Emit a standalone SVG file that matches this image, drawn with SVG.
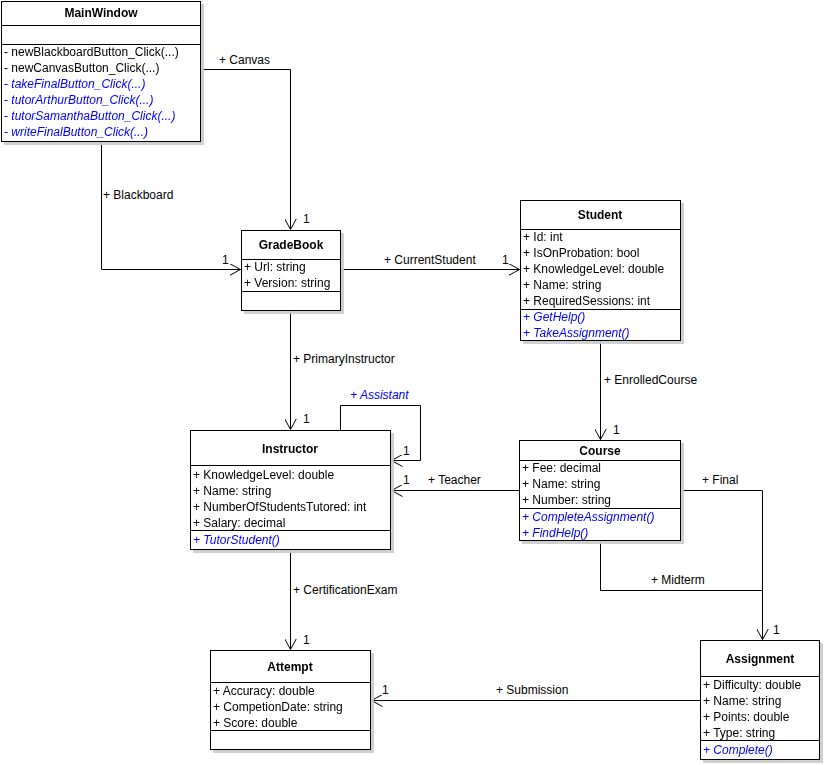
<svg xmlns="http://www.w3.org/2000/svg" width="825" height="765" viewBox="0 0 825 765">
<defs>
<marker id="a" markerWidth="12" markerHeight="12" refX="11" refY="6" orient="auto" markerUnits="userSpaceOnUse"><path d="M0,0 L11,6 L0,12" fill="none" stroke="#000"/></marker>
<filter id="sh" x="-5%" y="-5%" width="115%" height="115%"><feOffset dx="3" dy="3" in="SourceAlpha"/><feColorMatrix values="0 0 0 0 0.6 0 0 0 0 0.6 0 0 0 0 0.6 0 0 0 0.9 0"/><feMerge><feMergeNode/><feMergeNode in="SourceGraphic"/></feMerge></filter>
</defs>
<style>
text{font-family:"Liberation Sans",Arial,sans-serif;font-size:12px;fill:#000}
.t{font-weight:bold;text-anchor:middle}
.m{fill:#0000ff;font-style:italic}
.b{fill:#fff;stroke:#000;stroke-width:1}
.l{stroke:#000;stroke-width:1}
.c{fill:none;stroke:#000;stroke-width:1;marker-end:url(#a)}
</style>
<rect width="825" height="765" fill="#fff"/>
<g id="connectors">
<polyline class="c" points="200.5,69.5 290.5,69.5 290.5,229.5"/>
<text x="219" y="64">+ Canvas</text><text x="303" y="223">1</text>
<polyline class="c" points="101.5,141 101.5,269.5 240.5,269.5"/>
<text x="103" y="199">+ Blackboard</text><text x="222" y="264">1</text>
<polyline class="c" points="341,269.5 519.5,269.5"/>
<text x="384" y="264">+ CurrentStudent</text><text x="502" y="264">1</text>
<polyline class="c" points="290.5,311 290.5,429.5"/>
<text x="293" y="363">+ PrimaryInstructor</text><text x="303" y="423">1</text>
<polyline class="c" points="340.5,430 340.5,405.5 420.5,405.5 420.5,460.5 391.5,460.5"/>
<text x="350" y="399" class="m">+ Assistant</text><text x="403" y="455">1</text>
<polyline class="c" points="600.5,341 600.5,439.5"/>
<text x="604" y="384">+ EnrolledCourse</text><text x="613" y="434">1</text>
<polyline class="c" points="519,490.5 391.5,490.5"/>
<text x="428" y="484">+ Teacher</text><text x="403" y="484">1</text>
<polyline class="c" points="680,490.5 762.5,490.5 762.5,639.5"/>
<text x="702" y="484">+ Final</text><text x="773" y="634">1</text>
<polyline class="l" fill="none" points="600.5,541 600.5,590.5 762.5,590.5"/>
<text x="651" y="584">+ Midterm</text>
<polyline class="c" points="290.5,550 290.5,649.5"/>
<text x="293" y="594">+ CertificationExam</text><text x="303" y="644">1</text>
<polyline class="c" points="700,700.5 371.5,700.5"/>
<text x="496" y="694">+ Submission</text><text x="382" y="694">1</text>
</g>
<g id="MainWindow" filter="url(#sh)">
<rect class="b" x="1.5" y="1.5" width="199" height="140"/>
<line class="l" x1="1.5" y1="25.5" x2="200.5" y2="25.5"/><line class="l" x1="1.5" y1="44.5" x2="200.5" y2="44.5"/>
<text class="t" x="101" y="17">MainWindow</text>
<text x="4" y="56">-  newBlackboardButton_Click(...)</text>
<text x="4" y="72">-  newCanvasButton_Click(...)</text>
<text x="4" y="88" class="m">-  takeFinalButton_Click(...)</text>
<text x="4" y="104" class="m">-  tutorArthurButton_Click(...)</text>
<text x="4" y="120" class="m">-  tutorSamanthaButton_Click(...)</text>
<text x="4" y="136" class="m">-  writeFinalButton_Click(...)</text>
</g>
<g id="GradeBook" filter="url(#sh)">
<rect class="b" x="241.5" y="230.5" width="99" height="80"/>
<line class="l" x1="241.5" y1="259.5" x2="340.5" y2="259.5"/><line class="l" x1="241.5" y1="291.5" x2="340.5" y2="291.5"/>
<text class="t" x="291" y="249">GradeBook</text>
<text x="244" y="271">+ Url: string</text>
<text x="244" y="287">+ Version: string</text>
</g>
<g id="Student" filter="url(#sh)">
<rect class="b" x="520.5" y="200.5" width="160" height="140"/>
<line class="l" x1="520.5" y1="229.5" x2="680.5" y2="229.5"/><line class="l" x1="520.5" y1="309.5" x2="680.5" y2="309.5"/>
<text class="t" x="600" y="219">Student</text>
<text x="523" y="241">+ Id: int</text>
<text x="523" y="257">+ IsOnProbation: bool</text>
<text x="523" y="273">+ KnowledgeLevel: double</text>
<text x="523" y="289">+ Name: string</text>
<text x="523" y="305">+ RequiredSessions: int</text>
<text x="523" y="321" class="m">+ GetHelp()</text>
<text x="523" y="337" class="m">+ TakeAssignment()</text>
</g>
<g id="Instructor" filter="url(#sh)">
<rect class="b" x="190.5" y="430.5" width="200" height="119"/>
<line class="l" x1="190.5" y1="465.5" x2="390.5" y2="465.5"/><line class="l" x1="190.5" y1="530.5" x2="390.5" y2="530.5"/>
<text class="t" x="290" y="453">Instructor</text>
<text x="193" y="479">+ KnowledgeLevel: double</text>
<text x="193" y="495">+ Name: string</text>
<text x="193" y="511">+ NumberOfStudentsTutored: int</text>
<text x="193" y="527">+ Salary: decimal</text>
<text x="193" y="544" class="m">+ TutorStudent()</text>
</g>
<g id="Course" filter="url(#sh)">
<rect class="b" x="519.5" y="440.5" width="161" height="100"/>
<line class="l" x1="519.5" y1="460.5" x2="680.5" y2="460.5"/><line class="l" x1="519.5" y1="508.5" x2="680.5" y2="508.5"/>
<text class="t" x="600" y="455">Course</text>
<text x="522" y="472">+ Fee: decimal</text>
<text x="522" y="488">+ Name: string</text>
<text x="522" y="504">+ Number: string</text>
<text x="522" y="521" class="m">+ CompleteAssignment()</text>
<text x="522" y="537" class="m">+ FindHelp()</text>
</g>
<g id="Attempt" filter="url(#sh)">
<rect class="b" x="210.5" y="650.5" width="160" height="99"/>
<line class="l" x1="210.5" y1="682.5" x2="370.5" y2="682.5"/><line class="l" x1="210.5" y1="730.5" x2="370.5" y2="730.5"/>
<text class="t" x="290" y="671">Attempt</text>
<text x="213" y="695">+ Accuracy: double</text>
<text x="213" y="711">+ CompetionDate: string</text>
<text x="213" y="727">+ Score: double</text>
</g>
<g id="Assignment" filter="url(#sh)">
<rect class="b" x="700.5" y="640.5" width="119" height="119"/>
<line class="l" x1="700.5" y1="676.5" x2="819.5" y2="676.5"/><line class="l" x1="700.5" y1="740.5" x2="819.5" y2="740.5"/>
<text class="t" x="760" y="663">Assignment</text>
<text x="703" y="689">+ Difficulty: double</text>
<text x="703" y="705">+ Name: string</text>
<text x="703" y="721">+ Points: double</text>
<text x="703" y="737">+ Type: string</text>
<text x="703" y="754" class="m">+ Complete()</text>
</g>
</svg>
